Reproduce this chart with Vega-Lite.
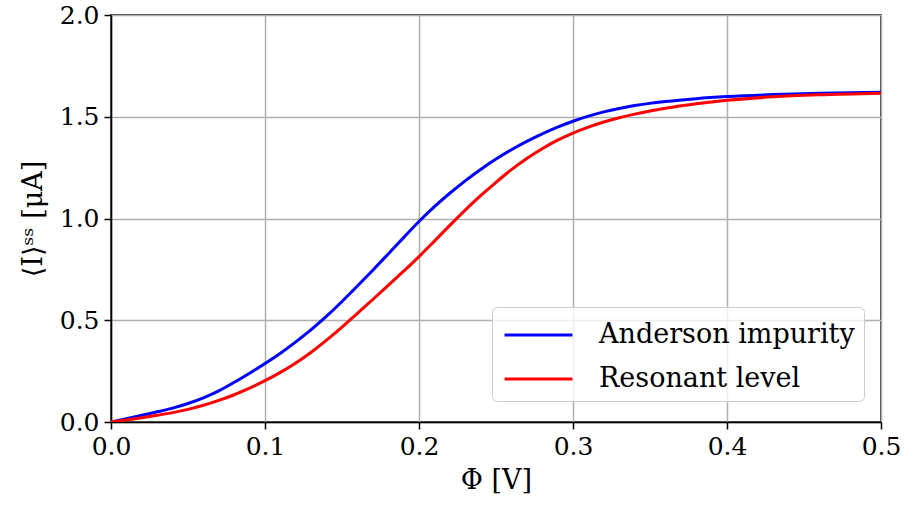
{
  "$schema": "https://vega.github.io/schema/vega-lite/v6.json",
  "autosize": "none",
  "width": 770,
  "height": 407,
  "padding": {"left": 111, "top": 15, "right": 23, "bottom": 92},
  "background": "white",
  "config": {
    "font": "DejaVu Serif",
    "view": {"stroke": "black", "strokeWidth": 1.5},
    "axis": {
      "labelFont": "DejaVu Serif",
      "titleFont": "DejaVu Serif",
      "labelFontSize": 25,
      "titleFontSize": 27,
      "titleFontWeight": "normal",
      "labelColor": "black",
      "titleColor": "black",
      "domainColor": "black",
      "domainWidth": 1.5,
      "tickColor": "black",
      "tickWidth": 1.5,
      "tickSize": 7,
      "gridColor": "#b0b0b0",
      "gridWidth": 1.5,
      "labelPadding": 5,
      "labelFlush": false
    }
  },
  "data": {
    "values": [
      {"phi": 0.00, "I": 0.000, "model": "Anderson impurity"},
      {"phi": 0.01, "I": 0.016, "model": "Anderson impurity"},
      {"phi": 0.02, "I": 0.033, "model": "Anderson impurity"},
      {"phi": 0.03, "I": 0.050, "model": "Anderson impurity"},
      {"phi": 0.04, "I": 0.068, "model": "Anderson impurity"},
      {"phi": 0.05, "I": 0.091, "model": "Anderson impurity"},
      {"phi": 0.06, "I": 0.119, "model": "Anderson impurity"},
      {"phi": 0.07, "I": 0.153, "model": "Anderson impurity"},
      {"phi": 0.08, "I": 0.195, "model": "Anderson impurity"},
      {"phi": 0.09, "I": 0.240, "model": "Anderson impurity"},
      {"phi": 0.10, "I": 0.287, "model": "Anderson impurity"},
      {"phi": 0.11, "I": 0.338, "model": "Anderson impurity"},
      {"phi": 0.12, "I": 0.394, "model": "Anderson impurity"},
      {"phi": 0.13, "I": 0.454, "model": "Anderson impurity"},
      {"phi": 0.14, "I": 0.520, "model": "Anderson impurity"},
      {"phi": 0.15, "I": 0.592, "model": "Anderson impurity"},
      {"phi": 0.16, "I": 0.668, "model": "Anderson impurity"},
      {"phi": 0.17, "I": 0.746, "model": "Anderson impurity"},
      {"phi": 0.18, "I": 0.826, "model": "Anderson impurity"},
      {"phi": 0.19, "I": 0.906, "model": "Anderson impurity"},
      {"phi": 0.20, "I": 0.985, "model": "Anderson impurity"},
      {"phi": 0.21, "I": 1.058, "model": "Anderson impurity"},
      {"phi": 0.22, "I": 1.124, "model": "Anderson impurity"},
      {"phi": 0.23, "I": 1.185, "model": "Anderson impurity"},
      {"phi": 0.24, "I": 1.241, "model": "Anderson impurity"},
      {"phi": 0.25, "I": 1.292, "model": "Anderson impurity"},
      {"phi": 0.26, "I": 1.338, "model": "Anderson impurity"},
      {"phi": 0.27, "I": 1.379, "model": "Anderson impurity"},
      {"phi": 0.28, "I": 1.416, "model": "Anderson impurity"},
      {"phi": 0.29, "I": 1.449, "model": "Anderson impurity"},
      {"phi": 0.30, "I": 1.478, "model": "Anderson impurity"},
      {"phi": 0.31, "I": 1.503, "model": "Anderson impurity"},
      {"phi": 0.32, "I": 1.524, "model": "Anderson impurity"},
      {"phi": 0.33, "I": 1.541, "model": "Anderson impurity"},
      {"phi": 0.34, "I": 1.555, "model": "Anderson impurity"},
      {"phi": 0.36, "I": 1.575, "model": "Anderson impurity"},
      {"phi": 0.38, "I": 1.589, "model": "Anderson impurity"},
      {"phi": 0.40, "I": 1.599, "model": "Anderson impurity"},
      {"phi": 0.43, "I": 1.609, "model": "Anderson impurity"},
      {"phi": 0.46, "I": 1.615, "model": "Anderson impurity"},
      {"phi": 0.50, "I": 1.621, "model": "Anderson impurity"},
      {"phi": 0.00, "I": 0.000, "model": "Resonant level"},
      {"phi": 0.01, "I": 0.010, "model": "Resonant level"},
      {"phi": 0.02, "I": 0.021, "model": "Resonant level"},
      {"phi": 0.03, "I": 0.033, "model": "Resonant level"},
      {"phi": 0.04, "I": 0.046, "model": "Resonant level"},
      {"phi": 0.05, "I": 0.062, "model": "Resonant level"},
      {"phi": 0.06, "I": 0.082, "model": "Resonant level"},
      {"phi": 0.07, "I": 0.106, "model": "Resonant level"},
      {"phi": 0.08, "I": 0.134, "model": "Resonant level"},
      {"phi": 0.09, "I": 0.166, "model": "Resonant level"},
      {"phi": 0.10, "I": 0.203, "model": "Resonant level"},
      {"phi": 0.11, "I": 0.244, "model": "Resonant level"},
      {"phi": 0.12, "I": 0.290, "model": "Resonant level"},
      {"phi": 0.13, "I": 0.343, "model": "Resonant level"},
      {"phi": 0.14, "I": 0.402, "model": "Resonant level"},
      {"phi": 0.15, "I": 0.466, "model": "Resonant level"},
      {"phi": 0.16, "I": 0.534, "model": "Resonant level"},
      {"phi": 0.17, "I": 0.602, "model": "Resonant level"},
      {"phi": 0.18, "I": 0.671, "model": "Resonant level"},
      {"phi": 0.19, "I": 0.741, "model": "Resonant level"},
      {"phi": 0.20, "I": 0.813, "model": "Resonant level"},
      {"phi": 0.21, "I": 0.889, "model": "Resonant level"},
      {"phi": 0.22, "I": 0.966, "model": "Resonant level"},
      {"phi": 0.23, "I": 1.041, "model": "Resonant level"},
      {"phi": 0.24, "I": 1.112, "model": "Resonant level"},
      {"phi": 0.25, "I": 1.178, "model": "Resonant level"},
      {"phi": 0.26, "I": 1.240, "model": "Resonant level"},
      {"phi": 0.27, "I": 1.295, "model": "Resonant level"},
      {"phi": 0.28, "I": 1.343, "model": "Resonant level"},
      {"phi": 0.29, "I": 1.385, "model": "Resonant level"},
      {"phi": 0.30, "I": 1.420, "model": "Resonant level"},
      {"phi": 0.31, "I": 1.449, "model": "Resonant level"},
      {"phi": 0.32, "I": 1.474, "model": "Resonant level"},
      {"phi": 0.33, "I": 1.495, "model": "Resonant level"},
      {"phi": 0.34, "I": 1.513, "model": "Resonant level"},
      {"phi": 0.36, "I": 1.542, "model": "Resonant level"},
      {"phi": 0.38, "I": 1.564, "model": "Resonant level"},
      {"phi": 0.40, "I": 1.581, "model": "Resonant level"},
      {"phi": 0.43, "I": 1.598, "model": "Resonant level"},
      {"phi": 0.46, "I": 1.608, "model": "Resonant level"},
      {"phi": 0.50, "I": 1.616, "model": "Resonant level"}
    ]
  },
  "mark": {"type": "line", "strokeWidth": 3, "clip": true, "interpolate": "monotone"},
  "encoding": {
    "x": {
      "field": "phi",
      "type": "quantitative",
      "scale": {"domain": [0, 0.5], "nice": false},
      "axis": {"title": "Φ [V]", "values": [0, 0.1, 0.2, 0.3, 0.4, 0.5], "format": ".1f", "titlePadding": 8}
    },
    "y": {
      "field": "I",
      "type": "quantitative",
      "scale": {"domain": [0, 2], "nice": false},
      "axis": {"title": "⟨I⟩ˢˢ [μA]", "values": [0, 0.5, 1, 1.5, 2], "format": ".1f", "titlePadding": 12}
    },
    "color": {
      "field": "model",
      "type": "nominal",
      "scale": {"domain": ["Anderson impurity", "Resonant level"], "range": ["#0000ff", "#ff0000"]},
      "legend": {
        "title": null,
        "orient": "none",
        "legendX": 381,
        "legendY": 292,
        "symbolType": "M-1.94,0H1.94",
        "symbolSize": 1225,
        "symbolStrokeWidth": 3,
        "symbolOffset": 18.5,
        "labelFont": "DejaVu Serif",
        "labelFontSize": 27,
        "labelColor": "black",
        "labelLimit": 0,
        "labelOffset": 41.5,
        "rowPadding": 12,
        "padding": 9,
        "offset": 0,
        "cornerRadius": 5,
        "strokeColor": "#cccccc",
        "fillColor": "rgba(255,255,255,0.8)"
      }
    }
  }
}
